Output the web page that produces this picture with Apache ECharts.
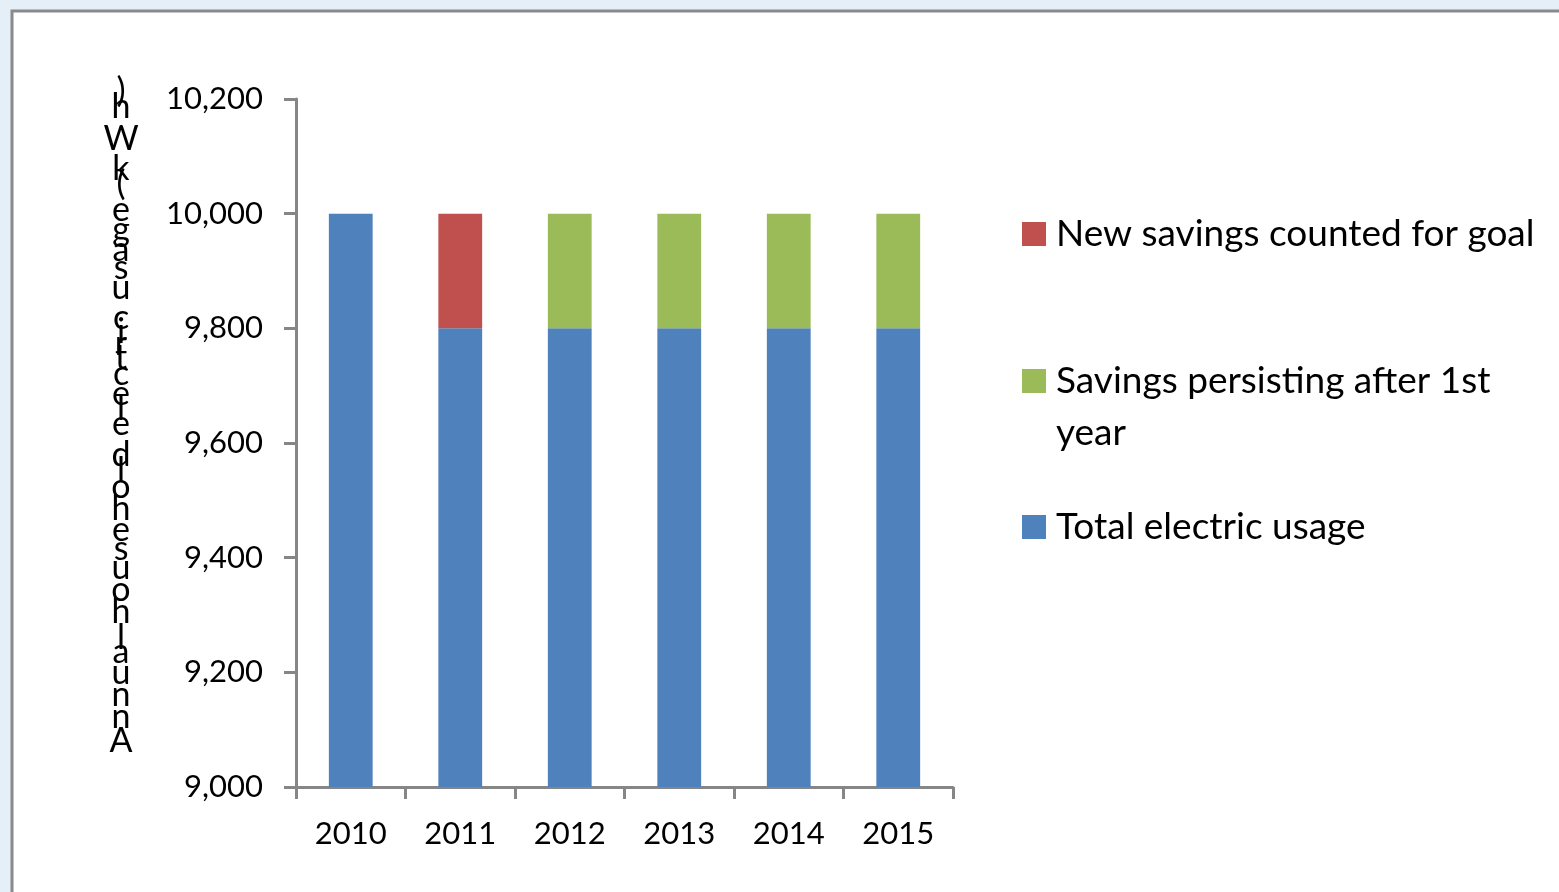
<!DOCTYPE html>
<html>
<head>
<meta charset="utf-8">
<title>Annual household electric usage</title>
<script src="https://cdn.jsdelivr.net/npm/echarts@6/dist/echarts.min.js"></script>
<style>
  html, body { margin: 0; padding: 0; background: #e4eff7; }
  #chart { width: 1559px; height: 892px; }
</style>
</head>
<body>
<div id="chart"></div>
<script>
// Years on the category axis
const years = ['2010', '2011', '2012', '2013', '2014', '2015'];

// Stacked series values (kWh)
const totalUsage = [10000, 9800, 9800, 9800, 9800, 9800];
const persistingSavings = [0, 0, 200, 200, 200, 200];
const newSavings = [0, 200, 0, 0, 0, 0];

// Series names shown in the legend
const nameTotal = 'Total electric usage';
const namePersisting = 'Savings persisting after 1st year';
const nameNew = 'New savings counted for goal';

// Value axis range and step
const yMin = 9000;
const yMax = 10200;
const yStep = 200;

const yTitle = 'Annual household electric usage (kWh)';

const FONT = 'Lato, "Open Sans", sans-serif';
const AXIS_GRAY = '#868686';

const chart = echarts.init(document.getElementById('chart'), null, { renderer: 'canvas' });

// Axis title: upright glyphs stacked bottom-to-top, each advancing by its own width
function stackedTitle(text, cx, bottomY, span, fontSize) {
  const ctx = document.createElement('canvas').getContext('2d');
  ctx.font = fontSize + 'px Lato';
  const widths = Array.from(text).map(ch => ctx.measureText(ch).width);
  const total = widths.reduce((a, b) => a + b, 0);
  const k = span / total;
  const out = [];
  let acc = 0;
  Array.from(text).forEach((ch, i) => {
    const w = widths[i] * k;
    if (ch !== ' ') {
      out.push({
        type: 'text',
        x: cx,
        y: bottomY - (acc + w / 2),
        style: {
          text: ch,
          font: fontSize + 'px ' + FONT,
          fill: '#000',
          align: 'center',
          verticalAlign: 'middle'
        }
      });
    }
    acc += w;
  });
  return out;
}

function thousands(v) {
  return String(v).replace(/\B(?=(\d{3})+(?!\d))/g, ',');
}

const legendText = { fontFamily: FONT, fontSize: 37, color: '#000', lineHeight: 52 };

const legendBase = {
  orient: 'vertical',
  left: 1017,
  itemWidth: 24,
  itemHeight: 24,
  itemGap: 10,
  icon: 'rect',
  textStyle: Object.assign({}, legendText, {
    rich: { t: Object.assign({}, legendText, { padding: [0, 0, 0, 5] }) }
  }),
  formatter: name => '{t|' + name + '}'
};

chart.setOption({
  backgroundColor: '#e4eff7',
  animation: false,
  graphic: [
    {
      type: 'rect',
      z: -10,
      shape: { x: 12, y: 11, width: 1600, height: 940 },
      style: { fill: '#ffffff', stroke: '#8a8a8a', lineWidth: 3 }
    },
    ...stackedTitle(yTitle, 121, 754, 668, 34)
  ],
  grid: { left: 296, top: 99, right: 606, bottom: 105 },
  legend: [
    Object.assign({}, legendBase, { top: 203, data: [nameNew] }),
    Object.assign({}, legendBase, {
      top: 298,
      data: [namePersisting],
      // blank first line keeps the swatch level with the first line of the wrapped name
      formatter: () => '{t| }\n{t|Savings persisting after 1st}\n{t|year}'
    }),
    Object.assign({}, legendBase, { top: 496, data: [nameTotal] })
  ],
  xAxis: {
    type: 'category',
    data: years,
    boundaryGap: true,
    axisLine: { show: true, lineStyle: { color: AXIS_GRAY, width: 3 } },
    axisTick: { show: true, alignWithLabel: false, length: 12, lineStyle: { color: AXIS_GRAY, width: 3 } },
    axisLabel: { margin: 31, color: '#000', fontFamily: FONT, fontSize: 31 },
    splitLine: { show: false }
  },
  yAxis: {
    type: 'value',
    min: yMin,
    max: yMax,
    interval: yStep,
    axisLine: { show: true, lineStyle: { color: AXIS_GRAY, width: 3 } },
    axisTick: { show: true, length: 12, lineStyle: { color: AXIS_GRAY, width: 3 } },
    axisLabel: { margin: 33, color: '#000', fontFamily: FONT, fontSize: 31, formatter: v => thousands(v) },
    splitLine: { show: false }
  },
  series: [
    {
      name: nameTotal,
      type: 'bar',
      stack: 'usage',
      data: totalUsage,
      barCategoryGap: '60%',
      itemStyle: { color: '#4f81bd' }
    },
    {
      name: namePersisting,
      type: 'bar',
      stack: 'usage',
      data: persistingSavings,
      itemStyle: { color: '#9bbb59' }
    },
    {
      name: nameNew,
      type: 'bar',
      stack: 'usage',
      data: newSavings,
      itemStyle: { color: '#c0504d' }
    }
  ]
});
</script>
</body>
</html>
